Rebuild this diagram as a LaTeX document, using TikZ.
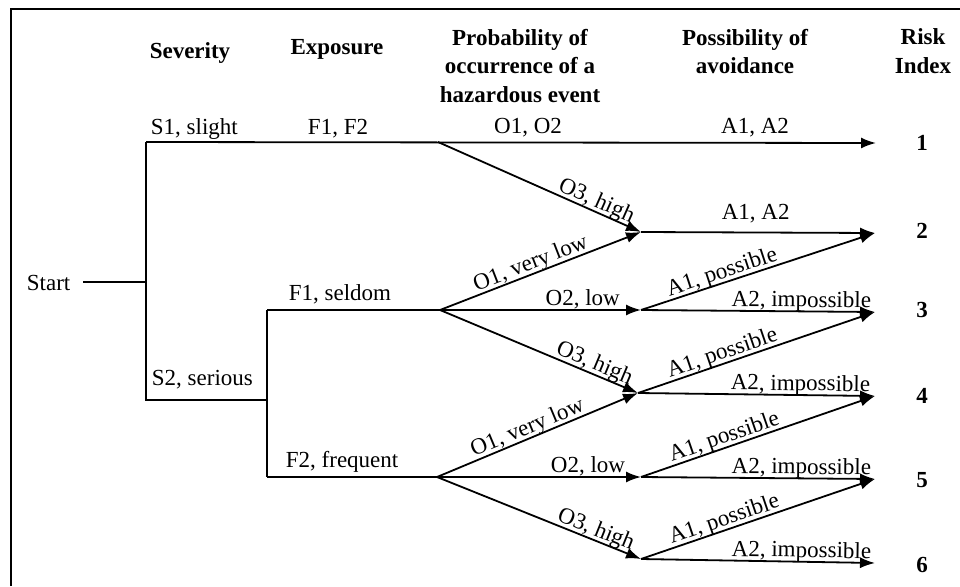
\documentclass[tikz,border=0pt]{standalone}
\usepackage{fontspec}
\setmainfont{Liberation Serif}
\usetikzlibrary{arrows.meta}
\begin{document}
\begin{tikzpicture}[x=1pt,y=-1pt,
  line width=1.8pt,
  arr/.style={-{Latex[length=15pt,width=11pt]}},
  lbl/.style={font=\fontsize{23}{28}\selectfont, inner sep=0pt},
  head/.style={font=\fontsize{23}{28.5}\selectfont\bfseries, align=center, inner sep=0pt},
  idx/.style={font=\fontsize{23}{28}\selectfont\bfseries, inner sep=0pt, anchor=base},
  onedge/.style={lbl, sloped, above=3.5pt, text depth=0pt}]

  % canvas
  \useasboundingbox (0,0) rectangle (960,586);
  \draw[line width=2pt] (11,586) -- (11,9) -- (960,9);

  % column headings
  \node[head, anchor=base] (hsev) at (190,59) {Severity};
  \node[head, anchor=base] (hexp) at (337,55) {Exposure};
  \node[head, anchor=north] (hprob) at (520,28) {Probability of\\occurrence of a\\hazardous event};
  \node[head, anchor=north] (havo) at (745,28) {Possibility of\\avoidance};
  \node[head, anchor=north] (hrisk) at (923,28) {Risk\\Index};

  % branching points
  \coordinate (start) at (83,282);
  \coordinate (s)  at (146,282);
  \coordinate (s1) at (146,142);
  \coordinate (s2) at (146,400);
  \coordinate (f)  at (267,400);
  \coordinate (f1) at (267,310);
  \coordinate (f2) at (267,477);
  \coordinate (o0) at (438,142);
  \coordinate (o1) at (440,310);
  \coordinate (o2) at (437,477);
  \coordinate (n2) at (641,232);
  \coordinate (n3) at (641,310);
  \coordinate (n4) at (638,393);
  \coordinate (n5) at (641,477);
  \coordinate (n6) at (641,559);
  \coordinate (r1) at (876,143);
  \coordinate (r2) at (875,233);
  \coordinate (r3) at (875,312);
  \coordinate (r4) at (875,396);
  \coordinate (r5) at (875,479);
  \coordinate (r6) at (875,563);

  % start and severity / exposure
  \node[lbl, anchor=base west] (lstart) at (26,290) {Start};
  \draw (start) -- (s);
  \draw (s1) -- (s2) -- (f);
  \draw (f1) -- (f2);
  \draw (f1) -- (o1);
  \draw (f2) -- (o2);
  \draw[arr] (s1) -- (r1);

  \node[lbl, anchor=base west] (ls1) at (150,134) {S1, slight};
  \node[lbl, anchor=base] (lf12) at (338,134) {F1, F2};
  \node[lbl, anchor=base] (lo12) at (528,133) {O1, O2};
  \node[lbl, anchor=base] (la12) at (755,133) {A1, A2};
  \node[lbl, anchor=base west] (ls2) at (151,385) {S2, serious};
  \node[lbl, anchor=base west] (lf1) at (288,300) {F1, seldom};
  \node[lbl, anchor=base west] (lf2) at (285,467) {F2, frequent};

  % probability of occurrence
  \draw[arr] (o0) -- node[onedge, pos=0.76] {O3, high} (n2);
  \draw[arr] (o1) -- node[onedge, pos=0.47] {O1, very low} (n2);
  \draw[arr] (o1) -- node[onedge, pos=0.71] {O2, low} (n3);
  \draw[arr] (o1) -- node[onedge, pos=0.76] {O3, high} (n4);
  \draw[arr] (o2) -- node[onedge, pos=0.47] {O1, very low} (n4);
  \draw[arr] (o2) -- node[onedge, pos=0.74] {O2, low} (n5);
  \draw[arr] (o2) -- node[onedge, pos=0.76] {O3, high} (n6);

  % possibility of avoidance
  \draw[arr] (n2) -- node[lbl, pos=0.49, above=12pt, text depth=0pt] {A1, A2} (r2);
  \draw[arr] (n3) -- node[onedge, pos=0.36] {A1, possible} (r2);
  \draw[arr] (n3) -- node[onedge, pos=0.685] {A2, impossible} (r3);
  \draw[arr] (n4) -- node[onedge, pos=0.37] {A1, possible} (r3);
  \draw[arr] (n4) -- node[onedge, pos=0.685] {A2, impossible} (r4);
  \draw[arr] (n5) -- node[onedge, pos=0.37] {A1, possible} (r4);
  \draw[arr] (n5) -- node[onedge, pos=0.685] {A2, impossible} (r5);
  \draw[arr] (n6) -- node[onedge, pos=0.37] {A1, possible} (r5);
  \draw[arr] (n6) -- node[onedge, pos=0.685] {A2, impossible} (r6);

  % risk index
  \node[idx] (i1) at (922,150) {1};
  \node[idx] (i2) at (922,238) {2};
  \node[idx] (i3) at (922,317) {3};
  \node[idx] (i4) at (922,403) {4};
  \node[idx] (i5) at (922,487) {5};
  \node[idx] (i6) at (922,572) {6};
\end{tikzpicture}
\end{document}
